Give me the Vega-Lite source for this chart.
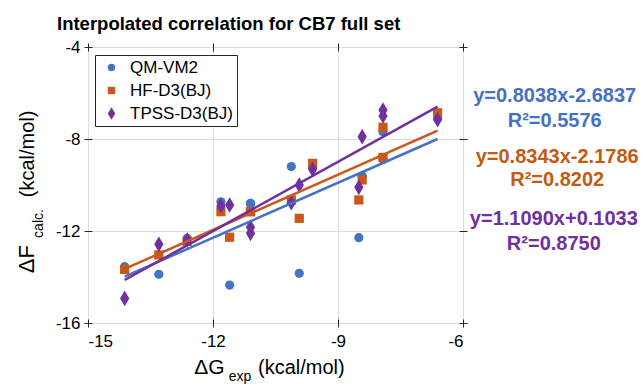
{
  "$schema": "https://vega.github.io/schema/vega-lite/v6.json",
  "width": 375,
  "height": 276,
  "autosize": "none",
  "padding": {"left": 88, "top": 47, "right": 180, "bottom": 66},
  "background": "white",
  "config": {
    "font": "Liberation Sans",
    "view": {"stroke": "#262626", "strokeWidth": 1}
  },
  "title": {
    "text": "Interpolated correlation for CB7 full set",
    "font": "Liberation Sans",
    "fontSize": 18.5,
    "fontWeight": "bold",
    "color": "#000000",
    "anchor": "start",
    "frame": "group",
    "dx": -31,
    "offset": 5
  },
  "datasets": {
    "points": [
      {"series": "QM-VM2", "x": -14.12, "y": -13.55},
      {"series": "QM-VM2", "x": -13.30, "y": -13.88},
      {"series": "QM-VM2", "x": -12.62, "y": -12.32},
      {"series": "QM-VM2", "x": -11.81, "y": -10.73},
      {"series": "QM-VM2", "x": -11.60, "y": -14.35},
      {"series": "QM-VM2", "x": -11.10, "y": -10.80},
      {"series": "QM-VM2", "x": -11.10, "y": -10.80},
      {"series": "QM-VM2", "x": -10.12, "y": -9.20},
      {"series": "QM-VM2", "x": -9.93, "y": -13.84},
      {"series": "QM-VM2", "x": -9.61, "y": -9.23},
      {"series": "QM-VM2", "x": -8.50, "y": -12.29},
      {"series": "QM-VM2", "x": -8.42, "y": -9.61},
      {"series": "QM-VM2", "x": -7.92, "y": -7.68},
      {"series": "QM-VM2", "x": -7.92, "y": -8.88},
      {"series": "QM-VM2", "x": -6.61, "y": -7.10},
      {"series": "HF-D3(BJ)", "x": -14.12, "y": -13.67},
      {"series": "HF-D3(BJ)", "x": -13.30, "y": -13.04},
      {"series": "HF-D3(BJ)", "x": -12.62, "y": -12.45},
      {"series": "HF-D3(BJ)", "x": -11.81, "y": -11.16},
      {"series": "HF-D3(BJ)", "x": -11.60, "y": -12.27},
      {"series": "HF-D3(BJ)", "x": -11.10, "y": -11.16},
      {"series": "HF-D3(BJ)", "x": -11.10, "y": -11.16},
      {"series": "HF-D3(BJ)", "x": -10.12, "y": -10.65},
      {"series": "HF-D3(BJ)", "x": -9.93, "y": -11.45},
      {"series": "HF-D3(BJ)", "x": -9.61, "y": -9.06},
      {"series": "HF-D3(BJ)", "x": -8.50, "y": -10.65},
      {"series": "HF-D3(BJ)", "x": -8.42, "y": -9.78},
      {"series": "HF-D3(BJ)", "x": -7.92, "y": -7.49},
      {"series": "HF-D3(BJ)", "x": -7.92, "y": -8.80},
      {"series": "HF-D3(BJ)", "x": -6.61, "y": -6.86},
      {"series": "TPSS-D3(BJ)", "x": -14.12, "y": -14.93},
      {"series": "TPSS-D3(BJ)", "x": -13.30, "y": -12.58},
      {"series": "TPSS-D3(BJ)", "x": -12.62, "y": -12.40},
      {"series": "TPSS-D3(BJ)", "x": -11.81, "y": -10.90},
      {"series": "TPSS-D3(BJ)", "x": -11.60, "y": -10.87},
      {"series": "TPSS-D3(BJ)", "x": -11.10, "y": -11.84},
      {"series": "TPSS-D3(BJ)", "x": -11.10, "y": -12.10},
      {"series": "TPSS-D3(BJ)", "x": -10.12, "y": -10.77},
      {"series": "TPSS-D3(BJ)", "x": -9.93, "y": -10.00},
      {"series": "TPSS-D3(BJ)", "x": -9.61, "y": -9.32},
      {"series": "TPSS-D3(BJ)", "x": -8.50, "y": -10.10},
      {"series": "TPSS-D3(BJ)", "x": -8.42, "y": -7.90},
      {"series": "TPSS-D3(BJ)", "x": -7.92, "y": -6.74},
      {"series": "TPSS-D3(BJ)", "x": -7.92, "y": -7.00},
      {"series": "TPSS-D3(BJ)", "x": -6.61, "y": -7.16}
    ],
    "fits": [
      {"series": "QM-VM2", "x": -14.12, "y": -13.98},
      {"series": "QM-VM2", "x": -6.61, "y": -8.00},
      {"series": "HF-D3(BJ)", "x": -14.12, "y": -13.65},
      {"series": "HF-D3(BJ)", "x": -6.61, "y": -7.64},
      {"series": "TPSS-D3(BJ)", "x": -14.12, "y": -14.13},
      {"series": "TPSS-D3(BJ)", "x": -6.61, "y": -6.59}
    ]
  },
  "resolve": {"axis": {"x": "independent", "y": "independent"}},
  "layer": [
    {
      "data": {"name": "points"},
      "mark": {"type": "point", "filled": true, "opacity": 1, "size": 85, "strokeWidth": 0},
      "encoding": {
        "x": {
          "field": "x", "type": "quantitative",
          "scale": {"domain": [-15, -6], "nice": false, "zero": false},
          "axis": {
            "orient": "bottom", "title": null, "values": [-15, -12, -9, -6],
            "labelExpr": "datum.value", "labelFontSize": 17, "labelColor": "#000000",
            "labelFont": "Liberation Sans", "domain": false, "offset": -4,
            "tickSize": 8, "tickColor": "#262626", "labelPadding": 6,
            "grid": true, "gridColor": "#dddddd", "gridWidth": 1
          }
        },
        "y": {
          "field": "y", "type": "quantitative",
          "scale": {"domain": [-16, -4], "nice": false, "zero": false},
          "axis": {
            "orient": "left", "title": null, "values": [-16, -12, -8, -4],
            "labelExpr": "datum.value", "labelFontSize": 17, "labelColor": "#000000",
            "labelFont": "Liberation Sans", "domain": false, "offset": -4,
            "tickSize": 8, "tickColor": "#262626", "labelPadding": 4,
            "grid": true, "gridColor": "#dddddd", "gridWidth": 1
          }
        },
        "color": {
          "field": "series", "type": "nominal",
          "scale": {"domain": ["QM-VM2", "HF-D3(BJ)", "TPSS-D3(BJ)"], "range": ["#4472C4", "#C9581A", "#7030A0"]},
          "legend": {
            "title": null, "orient": "none", "legendX": 7, "legendY": 8,
            "strokeColor": "#262626", "fillColor": "white", "padding": 4,
            "labelFontSize": 17, "labelFont": "Liberation Sans", "labelColor": "#000000",
            "symbolSize": 55, "rowPadding": 5, "labelOffset": 10, "symbolOffset": 4, "symbolStrokeWidth": 0
          }
        },
        "shape": {
          "field": "series", "type": "nominal",
          "scale": {"domain": ["QM-VM2", "HF-D3(BJ)", "TPSS-D3(BJ)"], "range": ["circle", "square", "M0,-1.7L1,0L0,1.7L-1,0Z"]},
          "legend": {
            "title": null, "orient": "none", "legendX": 7, "legendY": 8,
            "strokeColor": "#262626", "fillColor": "white", "padding": 4,
            "labelFontSize": 17, "labelFont": "Liberation Sans", "labelColor": "#000000",
            "symbolSize": 55, "rowPadding": 5, "labelOffset": 10, "symbolOffset": 4, "symbolStrokeWidth": 0
          }
        }
      }
    },
    {
      "data": {"name": "fits"},
      "mark": {"type": "line", "strokeWidth": 2.5},
      "encoding": {
        "x": {
          "field": "x", "type": "quantitative",
          "axis": {
            "orient": "top", "title": null, "values": [-15, -12, -9, -6], "labels": false,
            "domain": false, "offset": -4, "tickSize": 8, "tickColor": "#262626", "grid": false
          }
        },
        "y": {
          "field": "y", "type": "quantitative",
          "axis": {
            "orient": "right", "title": null, "values": [-16, -12, -8, -4], "labels": false,
            "domain": false, "offset": -4, "tickSize": 8, "tickColor": "#262626", "grid": false
          }
        },
        "color": {"field": "series", "type": "nominal", "legend": null},
        "detail": {"field": "series"}
      }
    },
    {
      "data": {"values": [{"k": 1}]},
      "mark": {"type": "text", "font": "Liberation Sans", "fontSize": 20, "fontWeight": "bold", "align": "center", "baseline": "middle", "lineHeight": 25, "color": "#4472C4"},
      "encoding": {
        "x": {"datum": -3.80, "type": "quantitative", "axis": null},
        "y": {"datum": -6.11, "type": "quantitative", "axis": null},
        "text": {"value": ["y=0.8038x-2.6837", "R²=0.5576"]}
      }
    },
    {
      "data": {"values": [{"k": 1}]},
      "mark": {"type": "text", "font": "Liberation Sans", "fontSize": 20, "fontWeight": "bold", "align": "center", "baseline": "middle", "lineHeight": 23, "color": "#C55A11"},
      "encoding": {
        "x": {"datum": -3.74, "type": "quantitative", "axis": null},
        "y": {"datum": -8.80, "type": "quantitative", "axis": null},
        "text": {"value": ["y=0.8343x-2.1786", "R²=0.8202"]}
      }
    },
    {
      "data": {"values": [{"k": 1}]},
      "mark": {"type": "text", "font": "Liberation Sans", "fontSize": 20, "fontWeight": "bold", "align": "center", "baseline": "middle", "lineHeight": 25, "color": "#7030A0"},
      "encoding": {
        "x": {"datum": -3.82, "type": "quantitative", "axis": null},
        "y": {"datum": -11.46, "type": "quantitative", "axis": null},
        "text": {"value": ["y=1.1090x+0.1033", "R²=0.8750"]}
      }
    },
    {
      "data": {"values": [{"k": 1}]},
      "mark": {"type": "text", "font": "Liberation Sans", "fontSize": 22, "align": "left", "baseline": "alphabetic", "angle": 270, "color": "#000000"},
      "encoding": {
        "x": {"datum": -16.30, "type": "quantitative", "axis": null},
        "y": {"datum": -13.84, "type": "quantitative", "axis": null},
        "text": {"value": "ΔF"}
      }
    },
    {
      "data": {"values": [{"k": 1}]},
      "mark": {"type": "text", "font": "Liberation Sans", "fontSize": 14, "align": "left", "baseline": "alphabetic", "angle": 270, "color": "#000000"},
      "encoding": {
        "x": {"datum": -16.07, "type": "quantitative", "axis": null},
        "y": {"datum": -12.30, "type": "quantitative", "axis": null},
        "text": {"value": "calc."}
      }
    },
    {
      "data": {"values": [{"k": 1}]},
      "mark": {"type": "text", "font": "Liberation Sans", "fontSize": 20, "align": "left", "baseline": "alphabetic", "angle": 270, "color": "#000000"},
      "encoding": {
        "x": {"datum": -16.30, "type": "quantitative", "axis": null},
        "y": {"datum": -10.53, "type": "quantitative", "axis": null},
        "text": {"value": "(kcal/mol)"}
      }
    },
    {
      "data": {"values": [{"k": 1}]},
      "mark": {"type": "text", "font": "Liberation Sans", "fontSize": 21, "align": "left", "baseline": "alphabetic", "color": "#000000"},
      "encoding": {
        "x": {"datum": -12.45, "type": "quantitative", "axis": null},
        "y": {"datum": -18.2, "type": "quantitative", "axis": null},
        "text": {"value": "ΔG"}
      }
    },
    {
      "data": {"values": [{"k": 1}]},
      "mark": {"type": "text", "font": "Liberation Sans", "fontSize": 14, "align": "left", "baseline": "alphabetic", "color": "#000000"},
      "encoding": {
        "x": {"datum": -11.62, "type": "quantitative", "axis": null},
        "y": {"datum": -18.5, "type": "quantitative", "axis": null},
        "text": {"value": "exp"}
      }
    },
    {
      "data": {"values": [{"k": 1}]},
      "mark": {"type": "text", "font": "Liberation Sans", "fontSize": 20, "align": "left", "baseline": "alphabetic", "color": "#000000"},
      "encoding": {
        "x": {"datum": -10.92, "type": "quantitative", "axis": null},
        "y": {"datum": -18.2, "type": "quantitative", "axis": null},
        "text": {"value": "(kcal/mol)"}
      }
    }
  ]
}
